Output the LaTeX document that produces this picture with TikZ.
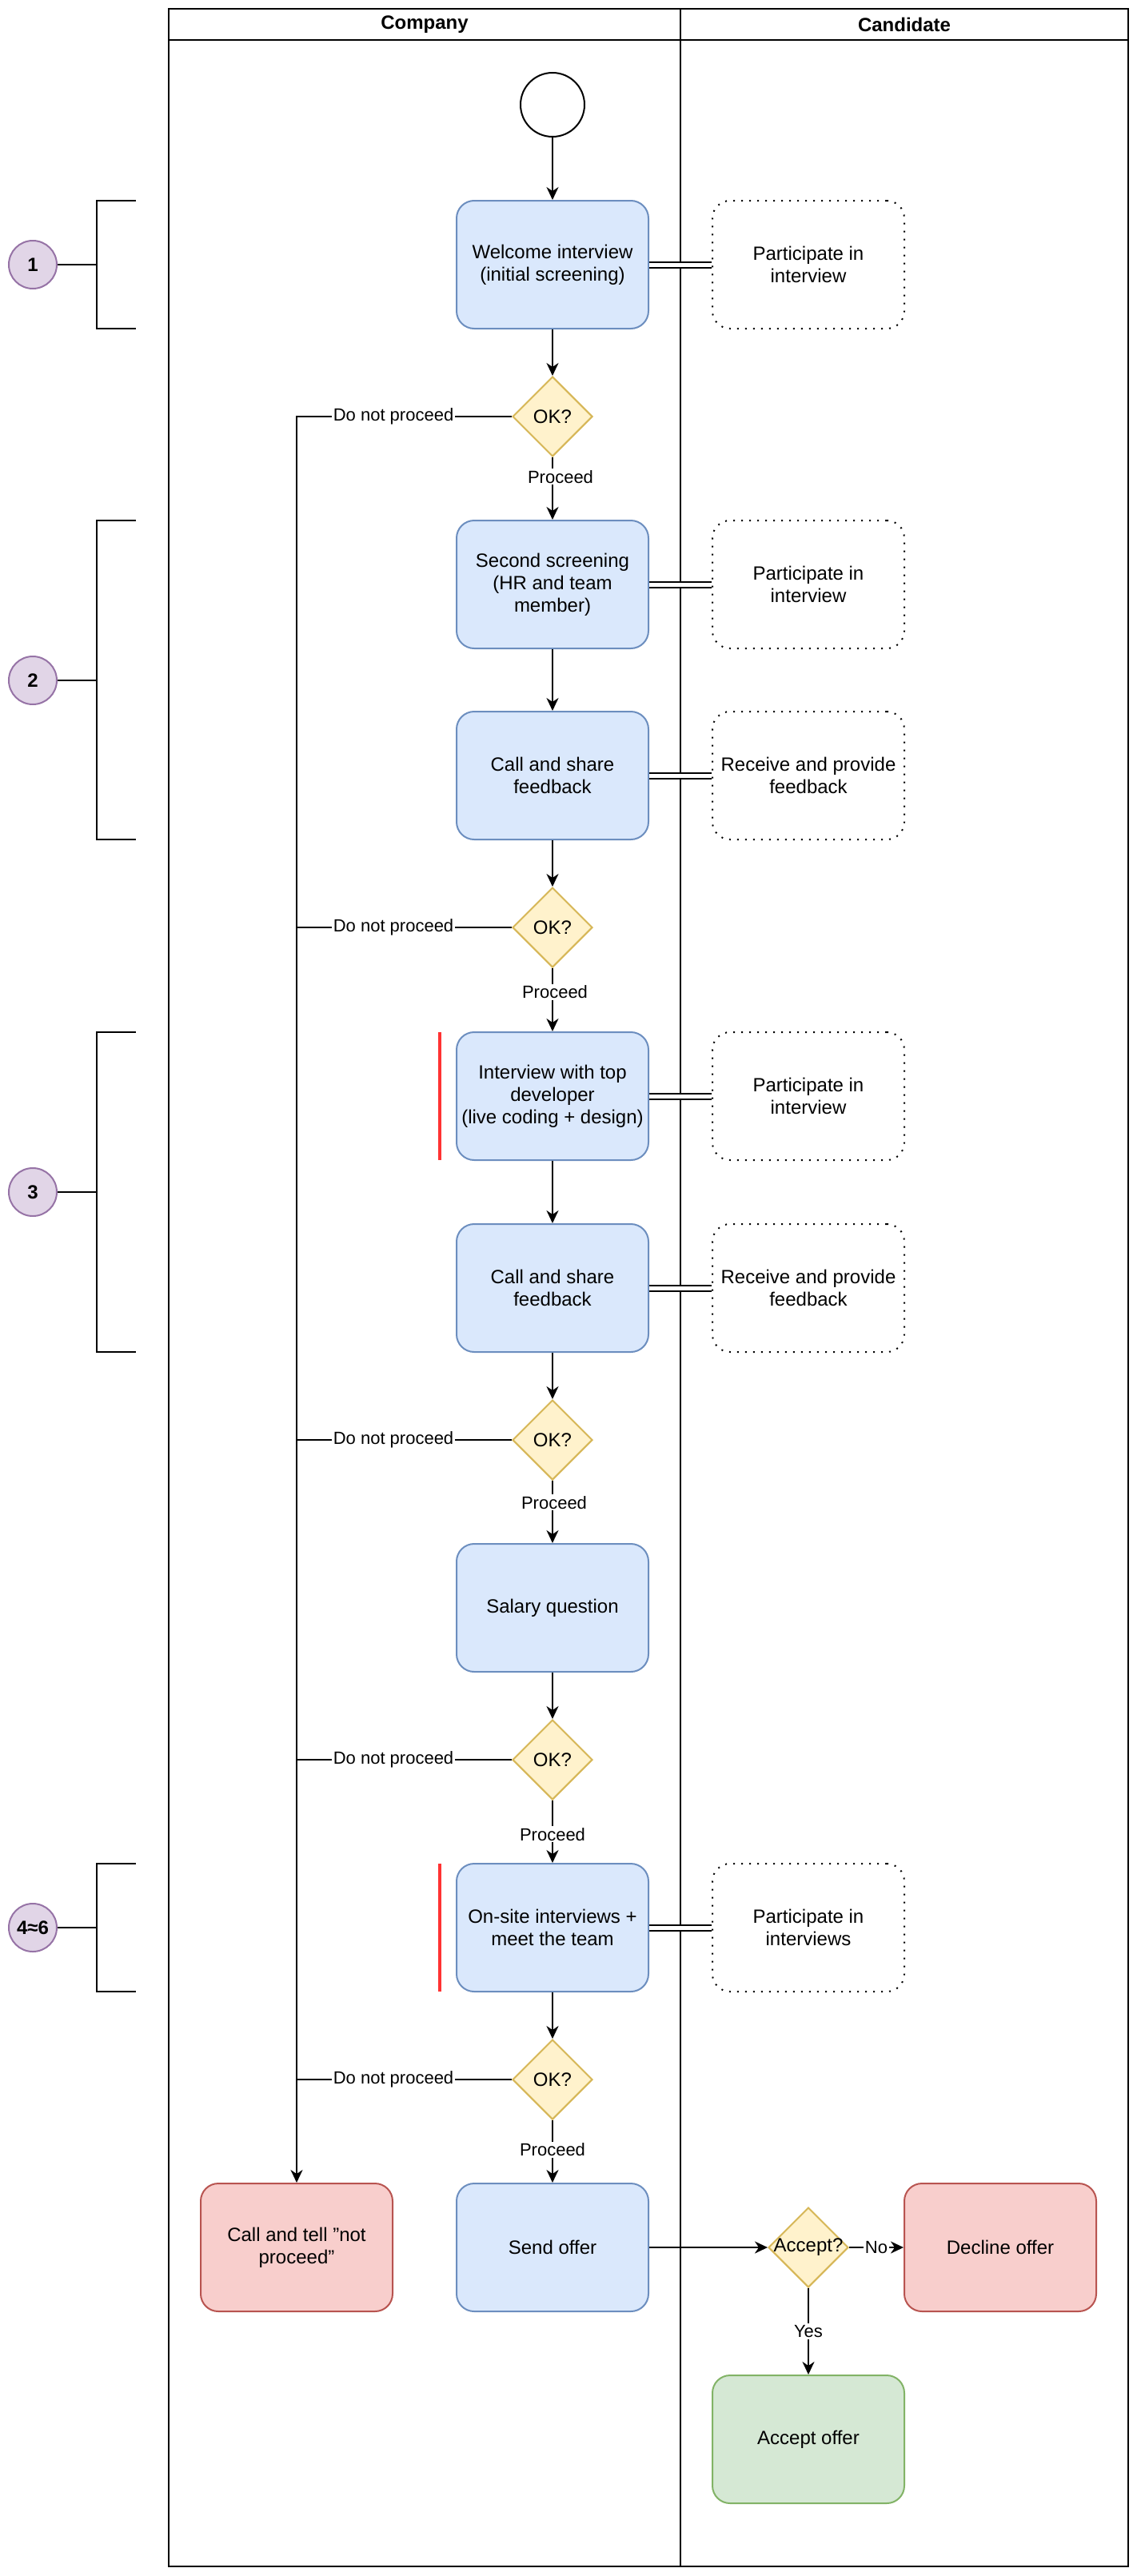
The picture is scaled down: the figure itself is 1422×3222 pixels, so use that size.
\documentclass[tikz,border=0pt]{standalone}
\usepackage{fontspec}
\setmainfont{Liberation Sans}
\usetikzlibrary{arrows.meta,shapes.geometric,calc}
\definecolor{bfill}{HTML}{DAE8FC}\definecolor{bdraw}{HTML}{6C8EBF}
\definecolor{rfill}{HTML}{F8CECC}\definecolor{rdraw}{HTML}{B85450}
\definecolor{gfill}{HTML}{D5E8D4}\definecolor{gdraw}{HTML}{82B366}
\definecolor{yfill}{HTML}{FFF2CC}\definecolor{ydraw}{HTML}{D6B656}
\definecolor{pfill}{HTML}{E1D5E7}\definecolor{pdraw}{HTML}{9673A6}
\definecolor{redbar}{HTML}{FF3333}
\begin{document}
\begin{tikzpicture}[x=0.5pt,y=-0.5pt,
  font=\fontsize{12}{14}\selectfont,
  box/.style={rectangle, rounded corners=11pt, line width=1pt, minimum width=120pt, minimum height=80pt, inner sep=2pt, align=center},
  proc/.style={box, draw=bdraw, fill=bfill},
  bad/.style={box, draw=rdraw, fill=rfill},
  good/.style={box, draw=gdraw, fill=gfill},
  cand/.style={box, draw=black, dash pattern=on 1pt off 4pt},
  dec/.style={diamond, aspect=1, draw=ydraw, fill=yfill, line width=1pt, minimum width=50pt, minimum height=50pt, inner sep=0pt},
  phase/.style={circle, draw=pdraw, fill=pfill, line width=1pt, minimum size=30pt, inner sep=0pt, font=\fontsize{12}{14}\selectfont\bfseries},
  conn/.style={line width=1pt, -{Stealth[length=8pt,width=7.5pt,inset=2.5pt]}},
  plain/.style={line width=1pt},
  link/.style={double, line width=1pt, double distance=2.5pt},
  bracket/.style={line width=1.25pt},
  elabel/.style={fill=white, inner sep=1pt, font=\fontsize{11}{13}\selectfont},
  head/.style={font=\fontsize{12}{14}\selectfont\bfseries}
]
\useasboundingbox (0,0) rectangle (1422,3222);
% pool
\draw[line width=1pt] (211,11) rectangle (1411,3210);
\draw[line width=1pt] (211,50) -- (1411,50);
\draw[line width=1pt] (851,11) -- (851,3210);
\node[head] (hcomp) at (531,31) {Company};
\node[head] (hcand) at (1131,31) {Candidate};

% nodes
\node[circle, draw=black, fill=white, line width=1pt, minimum size=40pt, inner sep=0pt] (start) at (691,131) {};
\node[proc] (welcome) at (691,331) {Welcome interview\\(initial screening)};
\node[cand] (part1) at (1011,331) {Participate in\\interview};
\node[dec, label=center:{OK?}] (ok1) at (691,521) {};
\node[proc] (screen2) at (691,731) {Second screening\\(HR and team\\member)};
\node[cand] (part2) at (1011,731) {Participate in\\interview};
\node[proc] (call1) at (691,970) {Call and share\\feedback};
\node[cand] (recv1) at (1011,970) {Receive and provide\\feedback};
\node[dec, label=center:{OK?}] (ok2) at (691,1160) {};
\node[proc] (inter) at (691,1371) {Interview with top\\developer\\(live coding + design)};
\node[cand] (part3) at (1011,1371) {Participate in\\interview};
\node[proc] (call2) at (691,1611) {Call and share\\feedback};
\node[cand] (recv2) at (1011,1611) {Receive and provide\\feedback};
\node[dec, label=center:{OK?}] (ok3) at (691,1801) {};
\node[proc] (salary) at (691,2011) {Salary question};
\node[dec, label=center:{OK?}] (ok4) at (691,2201) {};
\node[proc] (onsite) at (691,2411) {On-site interviews +\\meet the team};
\node[cand] (part4) at (1011,2411) {Participate in\\interviews};
\node[dec, label=center:{OK?}] (ok5) at (691,2601) {};
\node[bad] (tell) at (371,2811) {Call and tell "not\\proceed"};
\node[proc] (send) at (691,2811) {Send offer};
\node[dec, label=center:{Accept?}] (acc) at (1011,2811) {};
\node[bad] (decline) at (1251,2811) {Decline offer};
\node[good] (acceptoffer) at (1011,3051) {Accept offer};

% red bars
\draw[redbar, line width=2.25pt] (550,1291) -- (550,1451);
\draw[redbar, line width=2.25pt] (550,2331) -- (550,2491);

% phase brackets
\node[phase] (ph1) at (41,331) {1};
\node[phase] (ph2) at (41,851) {2};
\node[phase] (ph3) at (41,1491) {3};
\node[phase] (ph4) at (41,2411) {4≈6};
\draw[bracket] (170,251) -- (121,251) -- (121,411) -- (170,411);
\draw[bracket] (ph1.east) -- (121,331);
\draw[bracket] (170,651) -- (121,651) -- (121,1050) -- (170,1050);
\draw[bracket] (ph2.east) -- (121,851);
\draw[bracket] (170,1291) -- (121,1291) -- (121,1691) -- (170,1691);
\draw[bracket] (ph3.east) -- (121,1491);
\draw[bracket] (170,2331) -- (121,2331) -- (121,2491) -- (170,2491);
\draw[bracket] (ph4.east) -- (121,2411);

% main flow
\draw[conn] (start.south) -- (welcome.north);
\draw[conn] (welcome.south) -- (ok1.north);
\draw[conn] (ok1.south) -- node[elabel,pos=0.31,xshift=5pt]{Proceed} (screen2.north);
\draw[conn] (screen2.south) -- (call1.north);
\draw[conn] (call1.south) -- (ok2.north);
\draw[conn] (ok2.south) -- node[elabel,pos=0.38,xshift=1.5pt]{Proceed} (inter.north);
\draw[conn] (inter.south) -- (call2.north);
\draw[conn] (call2.south) -- (ok3.north);
\draw[conn] (ok3.south) -- node[elabel,pos=0.35,xshift=1pt]{Proceed} (salary.north);
\draw[conn] (salary.south) -- (ok4.north);
\draw[conn] (ok4.south) -- node[elabel,pos=0.54]{Proceed} (onsite.north);
\draw[conn] (onsite.south) -- (ok5.north);
\draw[conn] (ok5.south) -- node[elabel,pos=0.47]{Proceed} (send.north);

% do not proceed
\draw[conn] (ok1.west) -| node[elabel,pos=0.275]{Do not proceed} (tell.north);
\draw[plain] (ok2.west) -- node[elabel,pos=0.55]{Do not proceed} (ok2.west -| tell.north);
\draw[plain] (ok3.west) -- node[elabel,pos=0.55]{Do not proceed} (ok3.west -| tell.north);
\draw[plain] (ok4.west) -- node[elabel,pos=0.55]{Do not proceed} (ok4.west -| tell.north);
\draw[plain] (ok5.west) -- node[elabel,pos=0.55]{Do not proceed} (ok5.west -| tell.north);

% links company-candidate
\draw[link] (welcome.east) -- (part1.west);
\draw[link] (screen2.east) -- (part2.west);
\draw[link] (call1.east) -- (recv1.west);
\draw[link] (inter.east) -- (part3.west);
\draw[link] (call2.east) -- (recv2.west);
\draw[link] (onsite.east) -- (part4.west);

% offer
\draw[conn] (send.east) -- (acc.west);
\draw[conn] (acc.east) -- node[elabel]{No} (decline.west);
\draw[conn] (acc.south) -- node[elabel]{Yes} (acceptoffer.north);
\end{tikzpicture}
\end{document}
